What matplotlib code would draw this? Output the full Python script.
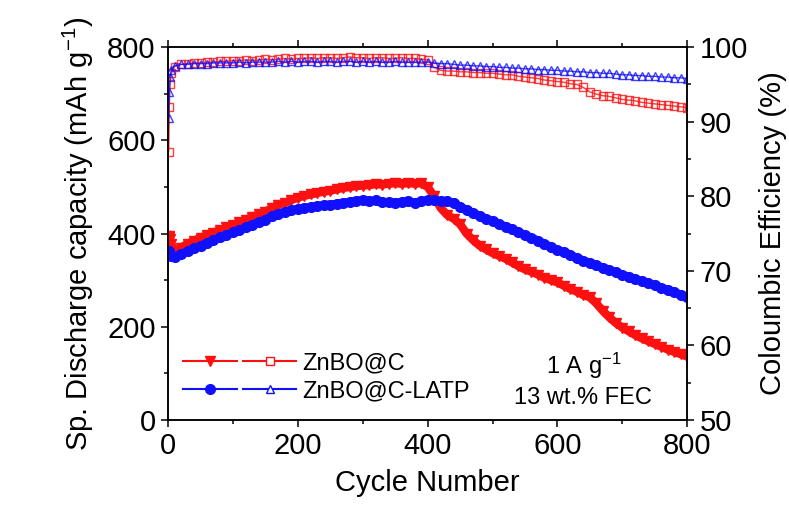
import matplotlib
matplotlib.use("Agg")
import matplotlib.pyplot as plt
from matplotlib.lines import Line2D
from matplotlib.legend_handler import HandlerTuple
from matplotlib.ticker import MultipleLocator

plt.rcParams.update({
    "font.family": ["Liberation Sans", "DejaVu Sans"],
    "mathtext.default": "regular",
    "font.size": 21,
    "axes.linewidth": 1.1,
    "xtick.direction": "out",
    "ytick.direction": "out",
    "xtick.major.size": 5,
    "ytick.major.size": 5,
    "xtick.minor.size": 3,
    "ytick.minor.size": 3,
    "xtick.major.width": 1.1,
    "ytick.major.width": 1.1,
    "xtick.minor.width": 1.1,
    "ytick.minor.width": 1.1,
})

# cycle numbers (sampled)
cycles = [1, 2, 3, 5] + list(range(10, 801, 10))

# specific discharge capacity, mAh/g
cap_znbo = [
    395, 392, 388, 378,
    362, 370, 378, 385, 391, 397, 402, 408, 413, 419,
    424, 430, 436, 441, 447, 455, 462, 466, 472, 477,
    481, 484, 487, 490, 492, 495, 498, 500, 502, 503,
    504, 506, 505, 507, 508, 507, 508, 507, 508, 500,
    480, 455, 440, 432, 420, 400, 386, 374, 366, 358,
    352, 346, 338, 330, 323, 318, 312, 305, 300, 295,
    288, 281, 275, 268, 263, 250, 234, 220, 208, 198,
    190, 182, 175, 169, 163, 157, 151, 146, 141, 136,
]
cap_latp = [
    362, 358, 355, 352,
    350, 356, 362, 368, 374, 380, 386, 392, 397, 403,
    408, 413, 419, 425, 430, 437, 443, 447, 450, 453,
    455, 457, 459, 461, 462, 464, 466, 468, 470, 472,
    470, 471, 468, 467, 466, 468, 469, 466, 469, 472,
    471, 470, 470, 465, 458, 450, 444, 438, 432, 427,
    421, 415, 409, 403, 397, 391, 385, 378, 371, 365,
    360, 354, 348, 342, 337, 332, 327, 322, 317, 312,
    307, 302, 298, 294, 289, 284, 279, 274, 269, 264,
]

# coulombic efficiency, %
ce_znbo = [
    86.0, 92.0, 95.0, 96.5,
    97.4, 97.7, 97.8, 97.9, 97.9, 98.0, 98.0, 98.1, 98.1, 98.2,
    98.2, 98.3, 98.2, 98.3, 98.4, 98.3, 98.4, 98.5, 98.4, 98.5,
    98.5, 98.6, 98.5, 98.6, 98.6, 98.5, 98.6, 98.7, 98.6, 98.6,
    98.5, 98.6, 98.6, 98.5, 98.5, 98.6, 98.5, 98.5, 98.4, 98.3,
    97.3, 96.9, 96.8, 96.8, 96.7, 96.7, 96.6, 96.6, 96.5, 96.5,
    96.4, 96.3, 96.3, 96.1, 96.0, 95.9, 95.8, 95.6, 95.5, 95.4,
    95.3, 95.1, 95.0, 94.6, 94.0, 93.7, 93.5, 93.4, 93.2, 93.0,
    92.9, 92.8, 92.6, 92.5, 92.4, 92.3, 92.2, 92.1, 92.0, 91.9,
]
ce_latp = [
    90.5, 94.0, 96.0, 97.0,
    97.5, 97.7, 97.7, 97.8, 97.8, 97.8, 97.9, 97.9, 97.9, 97.9,
    98.0, 97.9, 98.0, 98.0, 98.0, 98.0, 98.1, 98.0, 98.1, 98.0,
    98.1, 98.1, 98.0, 98.1, 98.1, 98.0, 98.1, 98.1, 98.0, 98.1,
    98.0, 98.1, 98.0, 98.0, 98.1, 98.0, 98.0, 98.0, 98.0, 98.0,
    97.9, 97.8, 97.8, 97.7, 97.6, 97.6, 97.5, 97.5, 97.4, 97.4,
    97.3, 97.3, 97.2, 97.2, 97.1, 97.1, 97.0, 97.0, 96.9, 96.9,
    96.8, 96.8, 96.7, 96.7, 96.6, 96.6, 96.5, 96.5, 96.4, 96.3,
    96.3, 96.2, 96.2, 96.1, 96.1, 96.0, 96.0, 95.9, 95.9, 95.8,
]

RED = "#ff1010"
BLUE = "#1010ff"

fig = plt.figure(figsize=(7.89, 5.19), dpi=100)
ax = fig.add_axes([0.213, 0.191, 0.658, 0.718])
ax2 = ax.twinx()

# discharge capacity: dense filled symbols -> thick band
ax.plot(cycles, cap_znbo, color=RED, lw=6, marker="v", ms=7, mec=RED,
        solid_joinstyle="round")
ax.plot(cycles, cap_latp, color=BLUE, lw=6, marker="o", ms=7, mec=BLUE,
        solid_joinstyle="round")

# coulombic efficiency: open symbols on the right axis
ax2.plot(cycles, ce_znbo, color=RED, lw=1, marker="s", ms=6,
         mfc="none", mec=RED, mew=1, alpha=0.8)
ax2.plot(cycles, ce_latp, color=BLUE, lw=1, marker="^", ms=6,
         mfc="none", mec=BLUE, mew=1, alpha=0.8)

ax.set_xlim(0, 800)
ax.set_ylim(0, 800)
ax2.set_ylim(50, 100)
ax.xaxis.set_major_locator(MultipleLocator(200))
ax.xaxis.set_minor_locator(MultipleLocator(100))
ax.yaxis.set_major_locator(MultipleLocator(200))
ax.yaxis.set_minor_locator(MultipleLocator(100))
ax2.yaxis.set_major_locator(MultipleLocator(10))
ax2.yaxis.set_minor_locator(MultipleLocator(5))
ax.tick_params(which="both", top=True, labeltop=False)
ax.tick_params(axis="both", labelsize=21, pad=4)
ax2.tick_params(axis="y", labelsize=21, pad=4)

ax.set_xlabel("Cycle Number", fontsize=21, labelpad=6)
ax.set_ylabel(r"Sp. Discharge capacity (mAh g$^{-1}$)", fontsize=21,
              labelpad=8)
ax2.set_ylabel("Coloumbic Efficiency (%)", fontsize=21, labelpad=8)

h_znbo = (Line2D([], [], color=RED, lw=1.5, marker="v", ms=7),
          Line2D([], [], color=RED, lw=1.5, marker="s", ms=6,
                 mfc="white", mec=RED, mew=1))
h_latp = (Line2D([], [], color=BLUE, lw=1.5, marker="o", ms=7),
          Line2D([], [], color=BLUE, lw=1.5, marker="^", ms=6,
                 mfc="white", mec=BLUE, mew=1))
ax2.legend([h_znbo, h_latp], ["ZnBO@C", "ZnBO@C-LATP"],
           handler_map={tuple: HandlerTuple(ndivide=None, pad=0.25)},
           loc="center left", bbox_to_anchor=(0.029, 0.115),
           frameon=False, fontsize=17, handlelength=4.8,
           handletextpad=0.25, labelspacing=0.25, borderpad=0,
           borderaxespad=0)

ax.text(0.80, 0.145, r"1 A g$^{-1}$", transform=ax.transAxes,
        ha="center", va="center", fontsize=17)
ax.text(0.80, 0.059, "13 wt.% FEC", transform=ax.transAxes,
        ha="center", va="center", fontsize=17)

fig.savefig("out.png", dpi=100)
